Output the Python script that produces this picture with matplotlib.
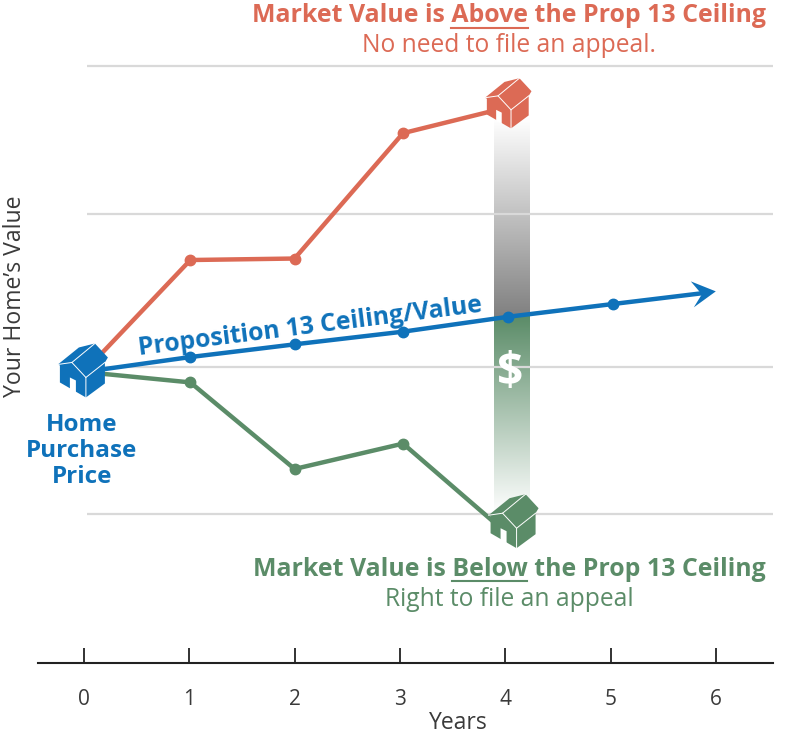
import numpy as np
import matplotlib
matplotlib.use('Agg')
from matplotlib import pyplot as plt
from matplotlib.colors import LinearSegmentedColormap
from matplotlib.patches import Polygon

plt.rcParams['font.family'] = ['Open Sans', 'DejaVu Sans']

years = [0, 1, 2, 3, 4, 5, 6]
ceiling_years = [0, 1.01, 2, 3.03, 4.03, 5.02]
ceiling_values = [1.95, 2.05, 2.135, 2.22, 2.32, 2.405]
arrow_end_value = 2.49
above_years = [0, 1.01, 2, 3.03, 4.03]
above_values = [1.95, 2.70, 2.71, 3.55, 3.725]
below_years = [0, 1.01, 2, 3.03, 4.03]
below_values = [1.95, 1.88, 1.30, 1.47, 0.86]
grid_levels = [1.0, 1.983, 3.008, 4.0]

BLUE = '#0f72ba'
RED = '#dc6a55'
GREEN = '#5b8c68'
DARK = '#3a3a3a'

W, H = 800, 737
PX_X = 105.3   # pixels per year
PX_Y = 149.25  # pixels per y unit

fig = plt.figure(figsize=(W / 100, H / 100), dpi=100)
ax = fig.add_axes([38 / W, (H - 663) / H, 735 / W, 643 / H])
ax.set_xlim((38 - 84) / PX_X, (773 - 84) / PX_X)
ax.set_ylim(0, 643 / PX_Y)
for side in ['top', 'left', 'right']:
    ax.spines[side].set_visible(False)
ax.spines['bottom'].set_linewidth(1.5)
ax.spines['bottom'].set_color('#222222')
ax.set_yticks([])
ax.set_xticks(years)
ax.tick_params(axis='x', direction='in', length=11, width=1.3, color='#222222',
               labelsize=15, labelcolor=DARK, pad=19)
fig.text(458 / W, 1 - 723 / H, 'Years', fontsize=16.5, color=DARK, ha='center', va='center')
fig.text(15 / W, 1 - 296 / H, 'Your Home\u2019s Value', rotation=90, fontsize=16.6,
         color=DARK, ha='center', va='center')

# сетка
ax.hlines(grid_levels, (87 - 84) / PX_X, (775 - 84) / PX_X, color='#d9d9d9', lw=1.6, zorder=3)


# полоса с градиентом
def band(y_from, y_to, color_from, color_to):
    cmap = LinearSegmentedColormap.from_list('b', [color_from, color_to])
    grad = np.linspace(0, 1, 256).reshape(-1, 1)
    ax.imshow(grad, cmap=cmap, aspect='auto', origin='lower', zorder=2,
              extent=[3.89, 4.23, y_from, y_to])


band(2.32, 3.65, '#808080', '#ffffff')
band(2.32, 1.0, GREEN, '#ffffff')
ax.set_xlim((38 - 84) / PX_X, (773 - 84) / PX_X)
ax.set_ylim(0, 643 / PX_Y)

ax.plot(above_years, above_values, color=RED, lw=3.2, marker='o', ms=7.5, zorder=4, clip_on=False)
ax.plot(below_years, below_values, color=GREEN, lw=3.2, marker='o', ms=7.5, zorder=4, clip_on=False)
ax.plot(ceiling_years, ceiling_values, color=BLUE, lw=3.2, marker='o', ms=7.5, zorder=5, clip_on=False)
ax.plot([ceiling_years[-1], 5.9], [ceiling_values[-1], arrow_end_value - 0.01], color=BLUE, lw=3.2, zorder=5)

# наконечник стрелки, смещения в пикселях от острия
arrow_shape = [(0, 0), (-25, -10), (-14, 3), (-22, 16)]
ax.add_patch(Polygon([(6 + dx / PX_X, arrow_end_value - dy / PX_Y) for dx, dy in arrow_shape],
                     closed=True, color=BLUE, lw=0, zorder=6, clip_on=False))

# домик: контур, дверь и белые линии в пикселях от центра
house_outline = [(-24, -6), (-3, -23), (13, -27), (26, -13), (23, -8), (23, 13), (4, 27),
                 (-22, 12), (-22, -5)]
house_door = [(-12, 7), (-6, 10), (-6, 22), (-12, 19)]
house_lines = [[(-24, -6), (-10, -8), (13, -27)],
               [(-10, -8), (4, 7), (4, 27)],
               [(4, 7), (23, -8)]]


def house(x, y, color, scale=1.0):
    def conv(points):
        return [(x + dx * scale / PX_X, y - dy * scale / PX_Y) for dx, dy in points]
    ax.add_patch(Polygon(conv(house_outline), closed=True, color=color, lw=0, zorder=7, clip_on=False))
    ax.add_patch(Polygon(conv(house_door), closed=True, color='white', lw=0, zorder=8, clip_on=False))
    for part in house_lines:
        pts = np.array(conv(part))
        ax.plot(pts[:, 0], pts[:, 1], color='white', lw=0.7, zorder=8, clip_on=False)


house(-0.02, 1.96, BLUE)
house(4.02, 3.75, RED, 0.93)
house(4.07, 0.95, GREEN)


def px_text(px, py, s, **kw):
    return fig.text(px / W, 1 - py / H, s, ha='center', va='center', **kw)


def underlined(px, py, before, word, after, color, size):
    t = px_text(px, py, before + word + after, color=color, fontsize=size, fontweight='bold')
    r = fig.canvas.get_renderer()
    left = t.get_window_extent(r).x0

    def width(s):
        m = fig.text(0, 0, s.replace(' ', '\u00a0'), fontsize=size, fontweight='bold')
        w = m.get_window_extent(r).width
        m.remove()
        return w
    x0 = left + width(before)
    x1 = left + width(before + word)
    fig.add_artist(plt.Line2D([x0 / W, x1 / W], [1 - (py + 12) / H] * 2, color=color, lw=1.5))


underlined(509, 16, 'Market Value is ', 'Above', ' the Prop 13 Ceiling', RED, 17.9)
px_text(509, 46, 'No need to file an appeal.', color=RED, fontsize=17.7)
underlined(509, 569, 'Market Value is ', 'Below', ' the Prop 13 Ceiling', GREEN, 17.9)
px_text(509, 599, 'Right to file an appeal', color=GREEN, fontsize=17.7)

for py, s in zip([425, 451, 477], ['Home', 'Purchase', 'Price']):
    px_text(82, py, s, color=BLUE, fontsize=17.5, fontweight='bold')

px_text(310, 327, 'Proposition 13 Ceiling/Value', color=BLUE, fontsize=17.8, fontweight='bold', rotation=7.2)
t = px_text(510, 373, '$', color='white', fontsize=33, fontweight='bold')
t.set_zorder(10)

fig.savefig('out.png', dpi=100)
